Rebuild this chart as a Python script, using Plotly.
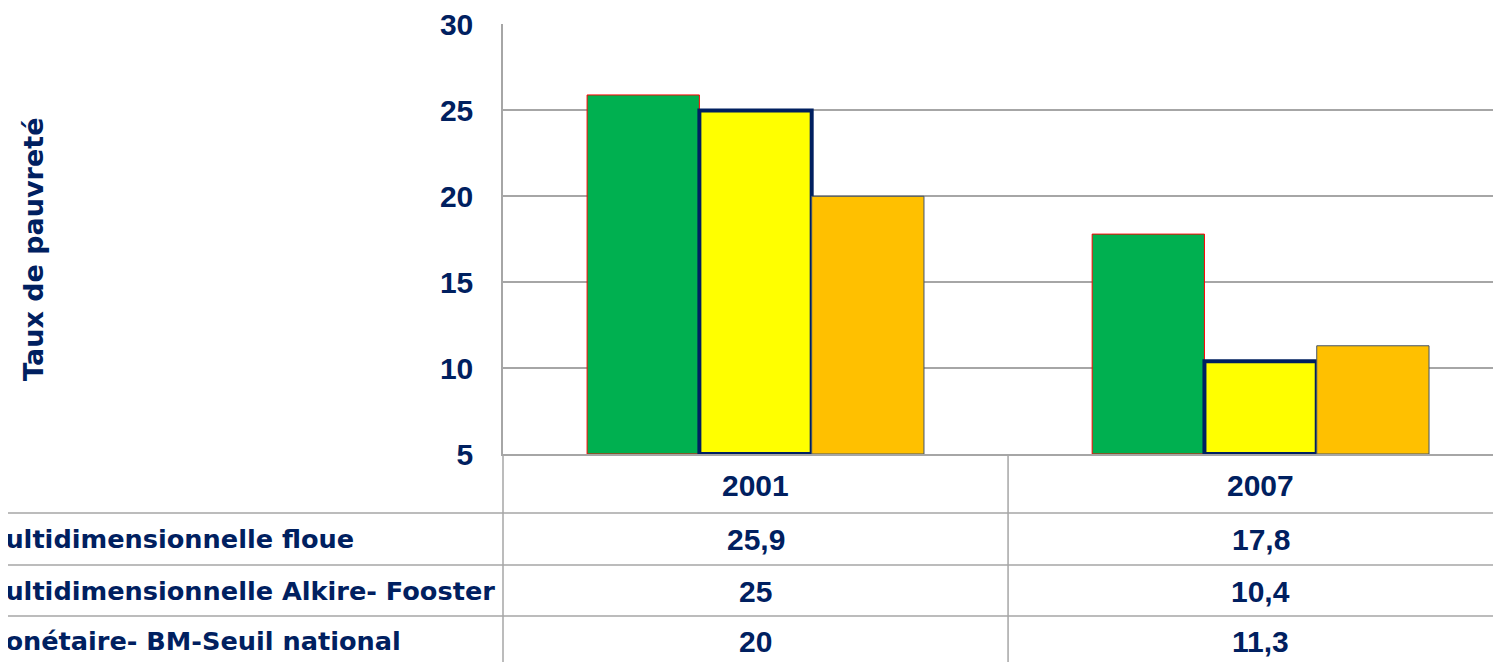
import plotly.graph_objects as go

years = ["2001", "2007"]
series_names = [
    "Pauvreté multidimensionnelle floue",
    "Pauvreté multidimensionnelle Alkire- Fooster",
    "Pauvreté monétaire- BM-Seuil national",
]
values_floue = [25.9, 17.8]
values_alkire = [25.0, 10.4]
values_monetaire = [20.0, 11.3]
value_labels = [["25,9", "17,8"], ["25", "10,4"], ["20", "11,3"]]
y_ticks = [5, 10, 15, 20, 25, 30]

NAVY = "#002060"
GRID = "#A6A6A6"
OFF = 8  # page body margin
W, H = 1501 - OFF, 662 - OFF
ML, MT = 503 - OFF, 24 - OFF
PB = 454 - OFF
MB = H - PB
PH = PB - MT
PW = W - ML

def py(p):
    # screen pixel row -> paper y
    return (PB - (p - OFF)) / PH

def px(p):
    # screen pixel column -> paper x
    return ((p - OFF) - ML) / PW

num_font = dict(family="Liberation Sans, Arial, sans-serif", size=30, color=NAVY, weight="bold")
lab_font = dict(family="DejaVu Sans, sans-serif", size=25.6, color=NAVY, weight="bold")
ttl_font = dict(family="DejaVu Sans, sans-serif", size=27, color=NAVY, weight="bold")

fig = go.Figure()
fig.add_bar(x=years, y=[v - 5 for v in values_floue], base=5, name=series_names[0],
            marker=dict(color="#00B050", line=dict(color="#FF0000", width=1)))
fig.add_bar(x=years, y=[v - 5 for v in values_alkire], base=5, name=series_names[1],
            marker=dict(color="#FFFF00", line=dict(color=NAVY, width=4)))
fig.add_bar(x=years, y=[v - 5 for v in values_monetaire], base=5, name=series_names[2],
            marker=dict(color="#FFC000", line=dict(color="#44546A", width=1)))

row_y = [py(539), py(591), py(641)]
ann = []
for i, y in enumerate(years):
    ann.append(dict(x=i, y=py(485), xref="x", yref="paper", text=y, showarrow=False,
                    font=num_font, xanchor="center", yanchor="middle"))
for r in range(3):
    for c in range(len(years)):
        ann.append(dict(x=c, y=row_y[r], xref="x", yref="paper", text=value_labels[r][c],
                        showarrow=False, font=num_font, xanchor="center", yanchor="middle"))
    ann.append(dict(x=px(-162), y=row_y[r], xref="paper", yref="paper", text=series_names[r],
                    showarrow=False, font=lab_font, xanchor="left", yanchor="middle"))
ann.append(dict(x=px(33), y=py(250), xref="paper", yref="paper", text="Taux de pauvreté",
                showarrow=False, font=ttl_font, textangle=-90, xanchor="center", yanchor="middle"))

shapes = []
for p in (513, 565, 616):
    shapes.append(dict(type="line", xref="paper", yref="paper", x0=px(0), x1=1, y0=py(p), y1=py(p),
                       line=dict(color=GRID, width=1.5)))
shapes.append(dict(type="line", xref="paper", yref="paper", x0=0, x1=0, y0=0, y1=py(662),
                   line=dict(color=GRID, width=1.5)))
shapes.append(dict(type="line", xref="x", yref="paper", x0=0.5, x1=0.5, y0=0, y1=py(662),
                   line=dict(color=GRID, width=1.5)))

fig.update_layout(
    width=W, height=H, autosize=False,
    margin=dict(l=ML, r=0, t=MT, b=MB, pad=0),
    plot_bgcolor="white", paper_bgcolor="white",
    barmode="group", bargap=0.333, bargroupgap=0,
    showlegend=False,
    annotations=ann, shapes=shapes,
    xaxis=dict(type="category", range=[-0.5, 1.476], showticklabels=False, showgrid=False,
               showline=True, linecolor=GRID, linewidth=1.5, ticks="", zeroline=False),
    yaxis=dict(range=[5, 30.03], tickvals=y_ticks, showgrid=True, gridcolor=GRID, gridwidth=1.5,
               showline=True, linecolor=GRID, linewidth=1.5, ticks="", zeroline=False,
               tickfont=num_font, ticklabelstandoff=22),
)

fig.write_html("out.html")
